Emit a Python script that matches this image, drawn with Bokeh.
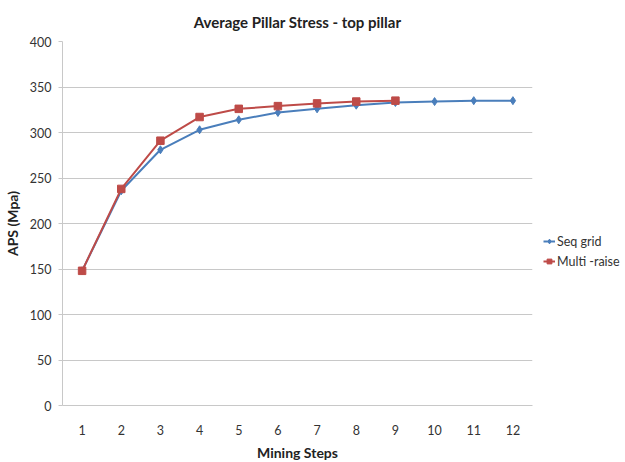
from bokeh.plotting import figure
from bokeh.models import Legend, LegendItem, FixedTicker, Range1d, Title
from bokeh.embed import file_html
from bokeh.resources import INLINE

steps = [1, 2, 3, 4, 5, 6, 7, 8, 9, 10, 11, 12]
seq_grid = [148, 236, 281, 303, 314, 322, 326, 330, 333, 334, 335, 335]
multi_steps = [1, 2, 3, 4, 5, 6, 7, 8, 9]
multi_raise = [148, 238, 291, 317, 326, 329, 332, 334, 335]
y_ticks = [0, 50, 100, 150, 200, 250, 300, 350, 400]

FONT = "Lato"
BLUE = "#4a7ebb"
RED = "#be4b48"

p = figure(output_backend="svg", toolbar_location=None,
           frame_width=470, frame_height=364,
           x_range=Range1d(0.5, 12.5), y_range=Range1d(0, 400),
           min_border_left=54, min_border_top=34, min_border_bottom=40, min_border_right=8)

p.title = Title(text="Average Pillar Stress - top pillar", align="center",
                text_font=FONT, text_font_size="15px", text_font_style="bold",
                text_color="#222222")
p.title.offset = 0
p.title.standoff = 21

r1 = p.line(steps, seq_grid, line_color=BLUE, line_width=2)
m1 = p.scatter(steps, seq_grid, marker="diamond", size=8, fill_color=BLUE, line_color=BLUE)
r2 = p.line(multi_steps, multi_raise, line_color=RED, line_width=2)
m2 = p.scatter(multi_steps, multi_raise, marker="square", size=7.5, fill_color=RED, line_color=RED)

p.xaxis.ticker = FixedTicker(ticks=steps)
p.yaxis.ticker = FixedTicker(ticks=y_ticks)
for ax in (p.xaxis[0], p.yaxis[0]):
    ax.minor_tick_line_color = None
    ax.axis_line_color = "#c8c8c8"
    ax.major_label_text_font = FONT
    ax.major_label_text_font_size = "12.5px"
    ax.major_label_text_color = "#333333"
    ax.axis_label_text_font = FONT
    ax.axis_label_text_font_size = "14px"
    ax.axis_label_text_font_style = "bold"
    ax.axis_label_text_color = "#222222"
p.xaxis.major_tick_line_color = None
p.yaxis.major_tick_line_color = "#c8c8c8"
p.yaxis.major_tick_in = 0
p.yaxis.major_tick_out = 4
p.xaxis.axis_label = "Mining Steps"
p.yaxis.axis_label = "APS (Mpa)"
p.xaxis.major_label_standoff = 13
p.yaxis.major_label_standoff = 7
p.xaxis.axis_label_standoff = 6
p.yaxis.axis_label_standoff = 6

p.xgrid.grid_line_color = None
p.ygrid.grid_line_color = "#c8c8c8"
p.outline_line_color = None

legend = Legend(items=[LegendItem(label="Seq grid", renderers=[r1, m1]),
                       LegendItem(label="Multi -raise", renderers=[r2, m2])],
                location=(11, 134), label_text_font=FONT, label_text_font_size="12.5px",
                label_text_color="#333333", border_line_color=None, background_fill_alpha=0,
                glyph_width=12, spacing=0, padding=0, margin=0, label_standoff=2)
p.add_layout(legend, "right")

open("out.html", "w").write(file_html(p, INLINE))
